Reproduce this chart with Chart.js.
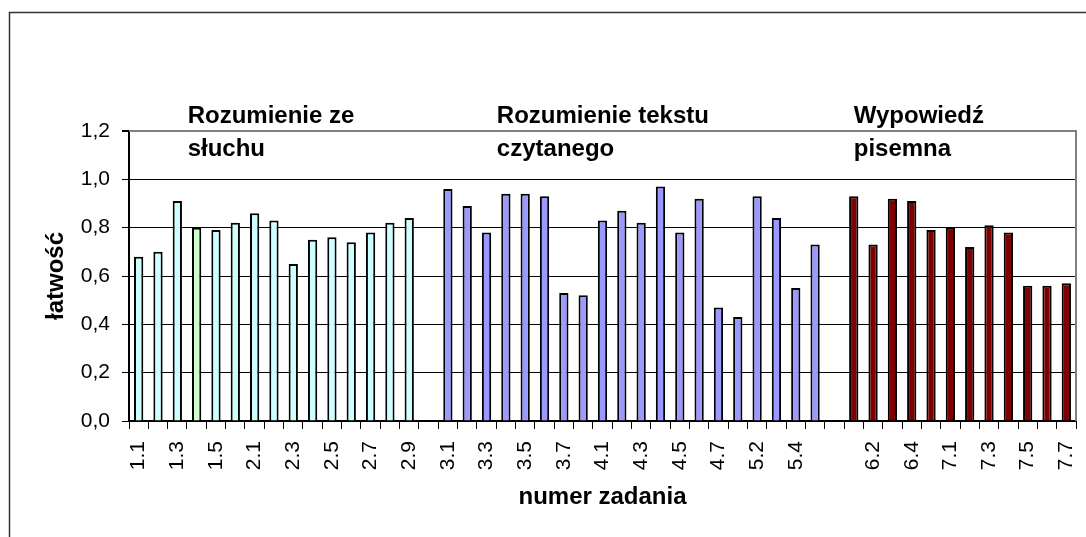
<!DOCTYPE html>
<html>
<head>
<meta charset="utf-8">
<script src="https://cdn.jsdelivr.net/npm/chart.js@4/dist/chart.umd.min.js"></script>
<style>
  html, body { margin: 0; padding: 0; background: #ffffff; }
  #wrap { position: relative; width: 1086px; height: 537px; }
</style>
</head>
<body>
<div id="wrap"><canvas id="c" width="1086" height="537"></canvas></div>
<script>
// ---- data ----
const listeningLabels = ['1.1','1.2','1.3','1.4','1.5','1.6','2.1','2.2','2.3','2.4','2.5','2.6','2.7','2.8','2.9'];
const listeningValues = [0.68,0.70,0.91,0.80,0.79,0.82,0.86,0.83,0.65,0.75,0.76,0.74,0.78,0.82,0.84];

const readingLabels = ['3.1','3.2','3.3','3.4','3.5','3.6','3.7','3.8','4.1','4.2','4.3','4.4','4.5','4.6','4.7','5.1','5.2','5.3','5.4','5.5'];
const readingValues = [0.96,0.89,0.78,0.94,0.94,0.93,0.53,0.52,0.83,0.87,0.82,0.97,0.78,0.92,0.47,0.43,0.93,0.84,0.55,0.73];

const writingLabels = ['6.1','6.2','6.3','6.4','6.5','7.1','7.2','7.3','7.4','7.5','7.6','7.7'];
const writingValues = [0.93,0.73,0.92,0.91,0.79,0.80,0.72,0.81,0.78,0.56,0.56,0.57];

const yTickValues = [0, 0.2, 0.4, 0.6, 0.8, 1.0, 1.2];

const sectionTitles = [
  { lines: ['Rozumienie ze', 'słuchu'], anchor: '1.4', dx: -9 },
  { lines: ['Rozumienie tekstu', 'czytanego'], anchor: '3.4', dx: -9 },
  { lines: ['Wypowiedź', 'pisemna'], anchor: '6.1', dx: 0 }
];

// ---- build combined category axis (empty slot between sections) ----
const labels = [...listeningLabels, '', ...readingLabels, '', ...writingLabels];
const values = [...listeningValues, null, ...readingValues, null, ...writingValues];
const colors = [
  ...listeningLabels.map(l => l === '1.4' ? '#CCFFCC' : '#CCFFFF'),
  '#ffffff',
  ...readingLabels.map(() => '#9999FF'),
  '#ffffff',
  ...writingLabels.map(() => '#800000')
];

const FONT = "'Liberation Sans', Arial, sans-serif";

const framePlugin = {
  id: 'frame',
  beforeDraw(chart) {
    const ctx = chart.ctx;
    ctx.save();
    ctx.strokeStyle = '#333333';
    ctx.lineWidth = 1.5;
    ctx.beginPath();
    ctx.moveTo(9.5, 540);
    ctx.lineTo(9.5, 12.5);
    ctx.lineTo(1090, 12.5);
    ctx.stroke();
    ctx.restore();
  },
  afterDatasetsDraw(chart) {
    const ctx = chart.ctx;
    const a = chart.chartArea;
    ctx.save();
    ctx.strokeStyle = '#808080';
    ctx.lineWidth = 2;
    ctx.beginPath();
    ctx.moveTo(a.left, a.top);
    ctx.lineTo(a.right, a.top);
    ctx.lineTo(a.right, a.bottom);
    ctx.stroke();
    ctx.restore();
  },
  afterDraw(chart) {
    const ctx = chart.ctx;
    const xs = chart.scales.x;
    ctx.save();
    ctx.fillStyle = '#000000';
    ctx.font = "bold 24px " + FONT;
    ctx.textAlign = 'left';
    ctx.textBaseline = 'alphabetic';
    sectionTitles.forEach(t => {
      const idx = labels.indexOf(t.anchor);
      const x = xs.getPixelForValue(idx) + t.dx;
      ctx.fillText(t.lines[0], x, 123);
      ctx.fillText(t.lines[1], x, 156);
    });
    ctx.restore();
  }
};

new Chart(document.getElementById('c'), {
  type: 'bar',
  data: {
    labels: labels,
    datasets: [{
      data: values,
      backgroundColor: colors,
      borderColor: '#000000',
      borderWidth: 2,
      borderSkipped: 'bottom',
      barPercentage: 0.48,
      categoryPercentage: 1.0
    }]
  },
  options: {
    responsive: false,
    animation: false,
    devicePixelRatio: 1,
    layout: { padding: { left: 42, top: 131, right: 10, bottom: 25 } },
    plugins: { legend: { display: false }, tooltip: { enabled: false } },
    scales: {
      x: {
        afterFit(s) { s.height = 91; s.paddingLeft = 0; s.paddingRight = 0; },
        grid: {
          drawOnChartArea: false,
          offset: true,
          tickLength: 8,
          tickColor: '#000000',
          tickWidth: 1
        },
        border: { color: '#000000', width: 2 },
        ticks: {
          autoSkip: false,
          minRotation: 90,
          maxRotation: 90,
          padding: 12,
          color: '#000000',
          font: { family: FONT, size: 21 },
          callback: (v, i) => (i % 2 === 0 ? labels[i] : '')
        },
        title: {
          display: true,
          text: 'numer zadania',
          color: '#000000',
          padding: 0,
          font: { family: FONT, size: 24, weight: 'bold' }
        }
      },
      y: {
        min: 0,
        max: 1.2,
        afterFit(s) { s.width = 87; s.paddingTop = 0; s.paddingBottom = 0; },
        afterBuildTicks(s) { s.ticks = yTickValues.map(v => ({ value: v })); },
        grid: {
          color: c => (c.tick && Math.abs(c.tick.value - 1.2) < 1e-6 ? '#808080' : '#000000'),
          lineWidth: c => (c.tick && Math.abs(c.tick.value - 1.2) < 1e-6 ? 2 : 1),
          tickColor: '#000000',
          tickLength: 7
        },
        border: { color: '#000000', width: 2 },
        ticks: {
          padding: 12,
          color: '#000000',
          font: { family: FONT, size: 21 },
          callback: v => Number(v).toFixed(1).replace('.', ',')
        },
        title: {
          display: true,
          text: 'łatwość',
          color: '#000000',
          padding: 0,
          font: { family: FONT, size: 24, weight: 'bold' }
        }
      }
    }
  },
  plugins: [framePlugin]
});
</script>
</body>
</html>
